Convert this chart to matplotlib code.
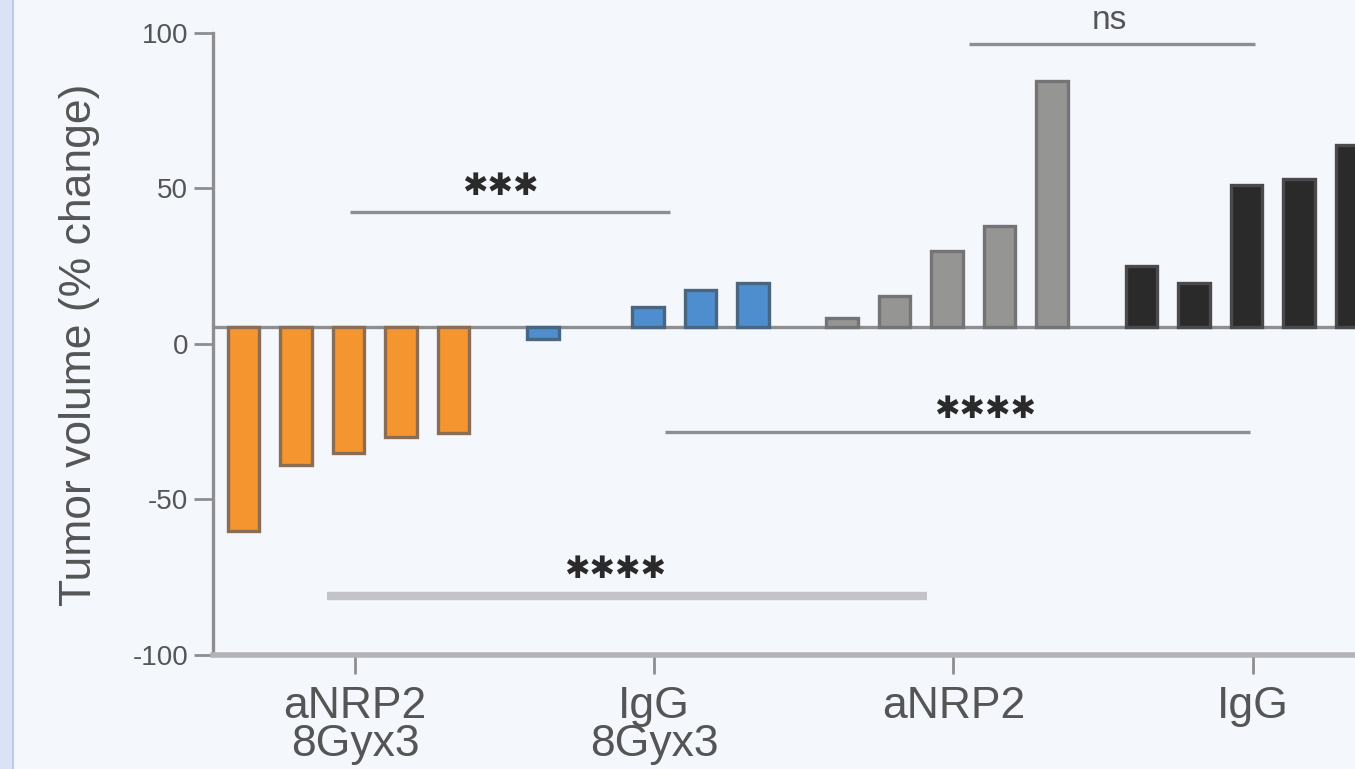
import matplotlib.pyplot as plt
import numpy as np
from matplotlib.patches import Rectangle

# values (% change), 5 animals per group
orange_vals = [-60, -39, -35, -30, -28.5]
blue_vals = [1.5, np.nan, 12, 17.5, 19.5]
grey_vals = [8.5, 15.5, 30, 38, 84.5]
black_vals = [25, 19.5, 51, 53, 64]

group_labels = ['aNRP2\n8Gyx3', 'IgG\n8Gyx3', 'aNRP2', 'IgG']
y_ticks = [-100, -50, 0, 50, 100]

# significance brackets: (x start, x end, y, text, text x, text y)
brackets = [(-0.1, 6.0, 42.4, '✱✱✱', 2.76, 50.5),
            (5.9, 17.05, -28.3, '✱✱✱✱', 12.0, -21.0),
            (-0.53, 10.9, -81.0, '✱✱✱✱', 4.95, -72.5),
            (11.7, 17.14, 96.5, 'ns', 14.38, 104.0)]

base = 5.5  # zero line of the bars sits slightly above the 0 tick
fills = ['#F5952F', '#4E8ECE', '#959593', '#2A2A2A']
edges = ['#8A6D55', '#4A6580', '#747476', '#4A4A4C']

bg = '#F4F7FC'
axcol = '#8E8E90'
txtcol = '#555555'

fig = plt.figure(figsize=(13.55, 7.69), dpi=100, facecolor=bg)
ax = fig.add_axes([213/1355, 1-655/769, 1-213/1355, 655/769])
ax.set_facecolor(bg)

# left strip of the page
fig.patches.append(Rectangle((0, 0), 12/1355, 1, transform=fig.transFigure,
                             facecolor='#D9E3F5', edgecolor='none', zorder=0))
fig.patches.append(Rectangle((12/1355, 0), 2/1355, 1, transform=fig.transFigure,
                             facecolor='#B7CBEE', edgecolor='none', zorder=0))

gstep = 5.7
ax.axhline(base, color=axcol, lw=2.4, zorder=1)
for g, vals in enumerate([orange_vals, blue_vals, grey_vals, black_vals]):
    vals = np.array(vals, dtype=float)
    xs = g*gstep + np.arange(5) - 2 - 0.12
    ok = ~np.isnan(vals)
    ax.bar(xs[ok], vals[ok]-base, bottom=base, width=0.6,
           color=fills[g], edgecolor=edges[g], linewidth=2.4, zorder=2)

for x0, x1, y, lab, tx, ty in brackets:
    if y < -70:
        ax.plot([x0, x1], [y, y], color='#C4C4C8', lw=6, solid_capstyle='butt', zorder=1)
    else:
        ax.plot([x0, x1], [y, y], color=axcol, lw=2.4, solid_capstyle='butt', zorder=1)
    if lab == 'ns':
        ax.text(tx, ty, lab, ha='center', va='center', fontsize=24,
                color=txtcol, family='Liberation Sans')
    else:
        ax.text(tx, ty, lab, ha='center', va='center', fontsize=22,
                color='#2A2A2A', family='DejaVu Sans')

ax.set_xlim(-2.705, 19.05)
ax.set_ylim(-100, 110.6)
ax.set_yticks(y_ticks)
ax.set_yticklabels([str(v) for v in y_ticks], fontsize=20, color=txtcol,
                   family='Liberation Sans')
ax.set_xticks(np.arange(4)*gstep)
ax.set_xticklabels(group_labels, fontsize=32, color=txtcol,
                   family='Liberation Sans', linespacing=0.92)
ax.tick_params(axis='y', length=14, width=2, color=axcol, pad=4)
ax.tick_params(axis='x', length=14, width=2, color=axcol, pad=8)

for s in ['top', 'right']:
    ax.spines[s].set_visible(False)
ax.spines['left'].set_color(axcol)
ax.spines['left'].set_linewidth(2.4)
ax.spines['left'].set_bounds(-100, 100)
ax.spines['bottom'].set_color('#B4B4B8')
ax.spines['bottom'].set_linewidth(4)

fig.text(80/1355, 1-345/769, 'Tumor volume (% change)', rotation=90,
         ha='center', va='center', fontsize=32, color=txtcol,
         family='Liberation Sans')

plt.savefig('out.png', dpi=100, facecolor=bg)
